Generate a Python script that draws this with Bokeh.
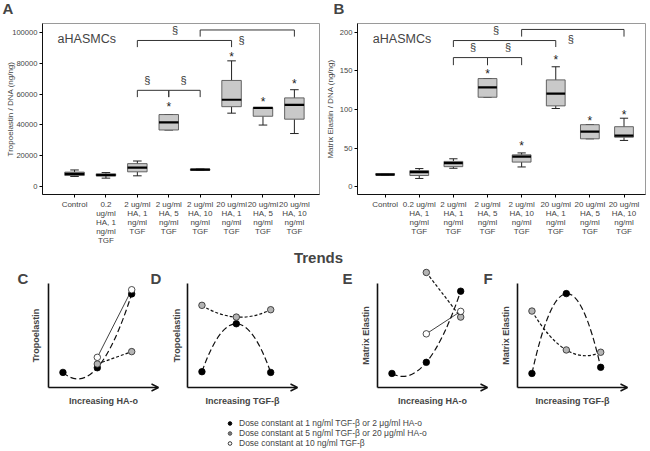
import numpy as np
from bokeh.plotting import figure
from bokeh.layouts import column, row
from bokeh.models import (FixedTicker, Label, Arrow, OpenHead, Legend, LegendItem,
                          Range1d, BasicTickFormatter)
from bokeh.core.properties import value
from bokeh.embed import file_html
from bokeh.resources import INLINE

FONT = "Liberation Sans"

# ---------------- data ----------------
groups = [0, 1, 2, 3, 4, 5, 6, 7]
labels_A = ["Control", "0.2\nug/ml\nHA, 1\nng/ml\nTGF", "2 ug/ml\nHA, 1\nng/ml\nTGF",
            "2 ug/ml\nHA, 5\nng/ml\nTGF", "2 ug/ml\nHA, 10\nng/ml\nTGF",
            "20 ug/ml\nHA, 1\nng/ml\nTGF", "20 ug/ml\nHA, 5\nng/ml\nTGF",
            "20 ug/ml\nHA, 10\nng/ml\nTGF"]
labels_B = ["Control", "0.2 ug/ml\nHA, 1\nng/ml\nTGF", "2 ug/ml\nHA, 1\nng/ml\nTGF",
            "2 ug/ml\nHA, 5\nng/ml\nTGF", "2 ug/ml\nHA, 10\nng/ml\nTGF",
            "20 ug/ml\nHA, 1\nng/ml\nTGF", "20 ug/ml\nHA, 5\nng/ml\nTGF",
            "20 ug/ml\nHA, 10\nng/ml\nTGF"]

# Tropoelastin / DNA (ng/ng)
tro_min = [6600, 5500, 7000, 36700, 10600, 47600, 39900, 34400]
tro_q1 = [7200, 7000, 9600, 36700, 10600, 51800, 45600, 43700]
tro_med = [8200, 7500, 12300, 41600, 11000, 56300, 51000, 53000]
tro_q3 = [9400, 8300, 14900, 46700, 11400, 68800, 51200, 57500]
tro_max = [10800, 9100, 16600, 46700, 11400, 81500, 51200, 62800]
tro_star_idx = [3, 5, 6, 7]
tro_star_y = [53700, 86000, 57000, 68600]
tro_br_start = [2, 4, 2, 3]
tro_br_end = [5, 7, 3, 4]
tro_br_top = [94700, 101500, 62400, 62400]
tro_br_leg = [90400, 97200, 58000, 58000]
tro_sect_x = [3.2, 5.32, 2.32, 3.47]
tro_sect_y = [101500, 94700, 69200, 69200]
tro_ticks = [0, 20000, 40000, 60000, 80000, 100000]

# Matrix elastin / DNA (ng/ng)
mat_min = [14.9, 10.6, 23.8, 115.9, 25.5, 101.3, 62.0, 59.9]
mat_q1 = [14.9, 14.4, 25.9, 115.9, 31.8, 104.7, 62.0, 64.1]
mat_med = [15.6, 18.7, 30.6, 128.7, 39.0, 120.6, 71.3, 66.2]
mat_q3 = [17.0, 20.8, 32.7, 140.1, 41.2, 138.4, 80.3, 77.7]
mat_max = [17.0, 23.4, 36.1, 140.1, 43.7, 155.4, 80.3, 88.7]
mat_star_idx = [3, 4, 5, 6, 7]
mat_star_y = [149.9, 56.9, 168.0, 89.6, 97.2]
mat_br_start = [2, 4, 2, 3]
mat_br_end = [5, 7, 3, 4]
mat_br_top = [189.4, 203.8, 167.3, 167.3]
mat_br_leg = [181.0, 194.5, 157.5, 157.5]
mat_sect_x = [3.25, 5.44, 2.58, 3.6]
mat_sect_y = [203.0, 191.5, 181.0, 181.0]
mat_ticks = [0, 50, 100, 150, 200]

# Trend schematics (relative level, 1 = top of axis)
trend_levels = [1, 2, 3]
C_black = [0.145, 0.19, 0.90]
C_gray = [0.226, 0.345]
C_white = [0.29, 0.94]
D_black = [0.152, 0.613, 0.145]
D_gray = [0.79, 0.677, 0.748]
E_black = [0.135, 0.242, 0.926]
E_gray = [1.106, 0.677]
E_white = [0.516, 0.732]
F_black = [0.135, 0.903, 0.194]
F_gray = [0.735, 0.361, 0.339]
legend_texts = ["Dose constant at 1 ng/ml TGF-\u03b2 or 2 \u03bcg/ml HA-o",
                "Dose constant at 5 ng/ml TGF-\u03b2 or 20 \u03bcg/ml HA-o",
                "Dose constant at 10 ng/ml TGF-\u03b2"]

W = 648
TOTAL_H = 449
LET_H = 18
TOP_H = 229
TOP_T = 5
TOP_B = 50
BOT_H = TOTAL_H - LET_H - TOP_H


def plain(width, height, xr, yr):
    p = figure(width=width, height=height, x_range=Range1d(*xr), y_range=Range1d(*yr),
               output_backend="svg", toolbar_location=None, min_border=0,
               x_axis_location=None, y_axis_location=None)
    p.grid.visible = False
    p.outline_line_color = None
    return p


# panel letters A / B
pLet = plain(W, LET_H, (0, W), (0, LET_H))
for lx, txt in [(2, "A"), (333, "B")]:
    pLet.add_layout(Label(x=lx, y=LET_H - 8, text=txt, text_font=FONT, text_font_size="15px",
                          text_font_style="bold", text_baseline="middle"))


def box_panel(width, xr, yr, bl, ticks, ylabel, labels,
              mn, q1, md, q3, mx, sidx, sy, bs, be, bt, bleg, sx, syy, bw, ann_x, ann_y,
              lab_stand):
    p = figure(width=width, height=TOP_H, x_range=Range1d(*xr), y_range=Range1d(*yr),
               output_backend="svg", toolbar_location=None,
               min_border_left=bl, min_border_right=3, min_border_top=TOP_T,
               min_border_bottom=TOP_B)
    p.grid.visible = False
    p.outline_line_color = "#9a9a9a"
    p.outline_line_width = 1
    x = np.array(groups, dtype=float)
    p.segment(x0=x, y0=np.array(q3), x1=x, y1=np.array(mx), line_color="#222", line_width=1)
    p.segment(x0=x, y0=np.array(q1), x1=x, y1=np.array(mn), line_color="#222", line_width=1)
    cw = bw * 0.22
    p.segment(x0=x - cw, y0=np.array(mx), x1=x + cw, y1=np.array(mx), line_color="#222", line_width=1)
    p.segment(x0=x - cw, y0=np.array(mn), x1=x + cw, y1=np.array(mn), line_color="#222", line_width=1)
    p.vbar(x=x, bottom=q1, top=q3, width=bw, fill_color="#c9c9c9",
           line_color="#555555", line_width=0.9)
    p.segment(x0=x - bw / 2, y0=np.array(md), x1=x + bw / 2, y1=np.array(md),
              line_color="black", line_width=2.2)
    p.text(x=sidx, y=sy, text=["*"] * len(sidx), text_font=value(FONT), text_font_size="12px",
           text_align="center", text_baseline="middle", text_color="#222", y_offset=3)
    xs = [[a, a, b, b] for a, b in zip(bs, be)]
    ys = [[l, t, t, l] for t, l in zip(bt, bleg)]
    p.multi_line(xs=xs, ys=ys, line_color="#333", line_width=1)
    p.text(x=sx, y=syy, text=["\u00a7"] * len(sx), text_font=value(FONT), text_font_size="11px",
           text_align="center", text_baseline="middle", text_color="#333")
    p.add_layout(Label(x=ann_x, y=ann_y, text="aHASMCs", text_font=FONT, text_font_size="12.5px",
                       text_baseline="middle", text_align="left"))
    ax = p.xaxis[0]
    ax.ticker = FixedTicker(ticks=groups)
    ax.major_label_overrides = {g: lab for g, lab in zip(groups, labels)}
    ax.minor_tick_line_color = None
    ax.major_tick_out = 3
    ax.major_tick_in = 0
    ax.major_label_text_font = FONT
    ax.major_label_text_font_size = "8px"
    ax.major_label_text_line_height = 1.0
    ax.major_label_standoff = 2
    ax.axis_line_color = "#111"
    ay = p.yaxis[0]
    ay.ticker = FixedTicker(ticks=ticks)
    ay.formatter = BasicTickFormatter(use_scientific=False)
    ay.minor_tick_line_color = None
    ay.major_tick_out = 3
    ay.major_tick_in = 0
    ay.major_label_text_font = FONT
    ay.major_label_text_font_size = "7.6px"
    ay.major_label_standoff = 2
    ay.axis_label = ylabel
    ay.axis_label_text_font = FONT
    ay.axis_label_text_font_size = "8px"
    ay.axis_label_text_font_style = "normal"
    ay.axis_label_standoff = lab_stand
    ay.axis_line_color = "#111"
    return p


pA = box_panel(322, (-1.02, 7.8), (-5100, 105700), 42, tro_ticks,
               "Tropoelastin / DNA (ng/ng)", labels_A,
               tro_min, tro_q1, tro_med, tro_q3, tro_max, tro_star_idx, tro_star_y,
               tro_br_start, tro_br_end, tro_br_top, tro_br_leg, tro_sect_x, tro_sect_y,
               0.62, -0.54, 95500, -6)
pB = box_panel(326, (-0.81, 7.63), (-10.2, 211.5), 35, mat_ticks,
               "Matrix Elastin / DNA (ng/ng)", labels_B,
               mat_min, mat_q1, mat_med, mat_q3, mat_max, mat_star_idx, mat_star_y,
               mat_br_start, mat_br_end, mat_br_top, mat_br_leg, mat_sect_x, mat_sect_y,
               0.55, -0.36, 191, 2)

# ---------------- bottom: trends ----------------
pBot = plain(W, BOT_H, (0, W), (0, BOT_H))
XR = (0.58, 3.78)           # trend level axis extent
PANEL_W = 110.0             # px per axis width
UNIT_H = 104.0              # px per relative unit
Y0 = 62.0                   # px of y = 0 from bottom of this strip
sx_scale = (XR[1] - XR[0]) / PANEL_W
pBot.extra_y_ranges = {"ty": Range1d(-Y0 / UNIT_H, (BOT_H - Y0) / UNIT_H)}
panel_left = {"C": 48, "D": 187, "E": 377, "F": 517}
pBot.extra_x_ranges = {k: Range1d(XR[0] - L * sx_scale, XR[0] + (W - L) * sx_scale)
                       for k, L in panel_left.items()}

pBot.add_layout(Label(x=318, y=TOTAL_H - 256.5, text="Trends", text_font=FONT,
                      text_font_size="15px", text_font_style="bold", text_align="center",
                      text_baseline="middle"))
for lx, txt in [(17, "C"), (150, "D"), (342, "E"), (483, "F")]:
    pBot.add_layout(Label(x=lx, y=TOTAL_H - 269, text=txt, text_font=FONT, text_font_size="15px",
                          text_font_style="bold", text_baseline="top"))

styles = {"black": ("black", "black", "6 3", 1.2),
          "gray": ("#b4b4b4", "#222", "3 2", 1.2),
          "white": ("white", "#222", "solid", 0.8)}


def trend_panel(key, ylabel, xlabel, series, ylab_px):
    kw = dict(x_range_name=key, y_range_name="ty")
    pBot.add_layout(Arrow(end=None, x_start=XR[0], y_start=0, x_end=XR[0], y_end=1.0,
                          line_color="#111", line_width=1.6, **kw))
    pBot.add_layout(Arrow(end=OpenHead(size=7, line_color="#111", line_width=1.4),
                          x_start=XR[0], y_start=0, x_end=XR[1], y_end=0,
                          line_color="#111", line_width=1.6, **kw))
    pBot.add_layout(Label(x=XR[0] - ylab_px * sx_scale, y=0.5, text=ylabel, angle=np.pi / 2,
                          text_font=FONT, text_font_size="9px", text_font_style="bold",
                          text_align="center", text_baseline="middle", **kw))
    pBot.add_layout(Label(x=(XR[0] + XR[1]) / 2, y=-13 / UNIT_H, text=xlabel,
                          text_font=FONT, text_font_size="9px", text_font_style="bold",
                          text_align="center", text_baseline="middle", **kw))
    for kind, vals in series:
        fill, edge, dash, lw = styles[kind]
        xs = trend_levels[-len(vals):]
        if len(vals) == 3:
            pBot.quadratic(x0=[xs[0]], y0=[vals[0]], x1=[xs[2]], y1=[vals[2]],
                           cx=[2 * xs[1] - (xs[0] + xs[2]) / 2],
                           cy=[2 * vals[1] - (vals[0] + vals[2]) / 2],
                           line_color="#111", line_width=lw, line_dash=dash, **kw)
        else:
            pBot.line(x=xs, y=vals, line_color="#111", line_width=lw, line_dash=dash, **kw)
    for kind, vals in series:
        fill, edge, dash, lw = styles[kind]
        xs = trend_levels[-len(vals):]
        pBot.scatter(x=xs, y=vals, size=6.5, fill_color=fill, line_color=edge,
                     line_width=0.8, **kw)


trend_panel("C", "Tropoelastin", "Increasing HA-o",
            [("black", C_black), ("gray", C_gray), ("white", C_white)], 13)
trend_panel("D", "Tropoelastin", "Increasing TGF-\u03b2",
            [("black", D_black), ("gray", D_gray)], 11)
trend_panel("E", "Matrix Elastin", "Increasing HA-o",
            [("black", E_black), ("gray", E_gray), ("white", E_white)], 12)
trend_panel("F", "Matrix Elastin", "Increasing TGF-\u03b2",
            [("black", F_black), ("gray", F_gray)], 12)

nan = [np.nan]
r1 = pBot.scatter(x=nan, y=nan, size=6.5, fill_color="black", line_color="black")
r2 = pBot.scatter(x=nan, y=nan, size=6.5, fill_color="#7a7a7a", line_color="#555")
r3 = pBot.scatter(x=nan, y=nan, size=6.5, fill_color="white", line_color="#222", line_width=0.9)
leg = Legend(items=[LegendItem(label=t, renderers=[r], index=0)
                    for t, r in zip(legend_texts, [r1, r2, r3])],
             location=(225, 1), label_text_font=FONT, label_text_font_size="8.5px",
             label_height=10, glyph_height=10, glyph_width=9, label_standoff=5, spacing=0,
             padding=0, margin=0, border_line_color=None, background_fill_alpha=0)
pBot.add_layout(leg)

layout = column(pLet, row(pA, pB), pBot)
open("out.html", "w").write(file_html(layout, INLINE))
